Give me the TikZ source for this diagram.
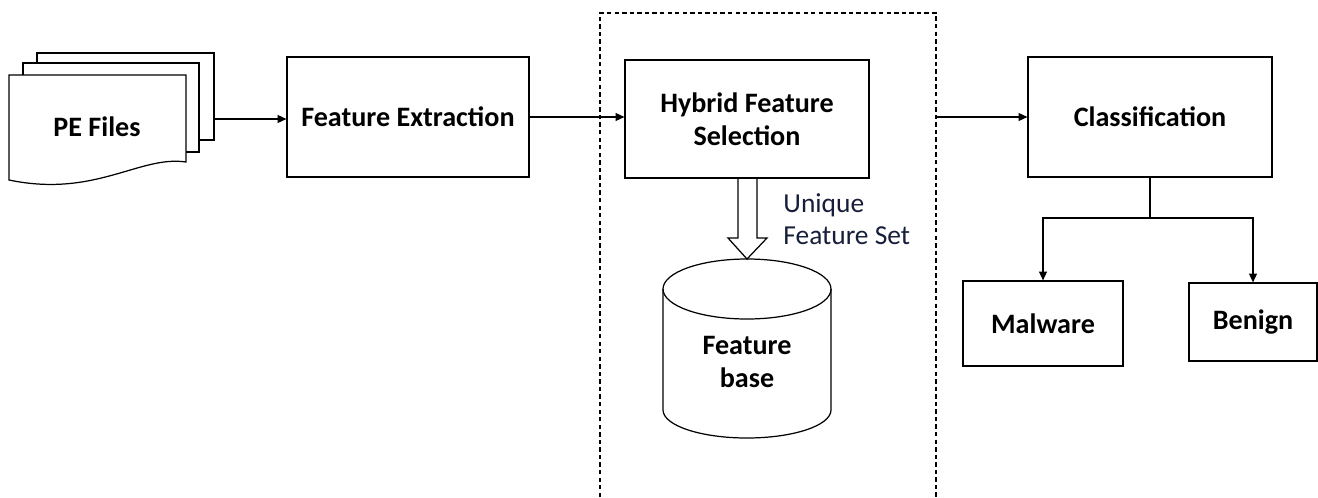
\documentclass[tikz,border=0pt]{standalone}
\usepackage{fontspec}
\setmainfont{Carlito}
\usetikzlibrary{arrows.meta,calc,positioning}
\definecolor{setblue}{RGB}{22,30,58}

\begin{document}
\begin{tikzpicture}[x=0.02cm,y=-0.02cm,line width=0.7pt,>={Triangle[length=5pt,width=4.5pt]},
  block/.style={draw,align=center,inner sep=0pt,font=\fontsize{16}{19}\selectfont\bfseries},
  label/.style={align=center,font=\fontsize{16}{19}\selectfont\bfseries}]
\useasboundingbox (0,0) rectangle (1318,497);
% stack of PE files
\draw[fill=white] (37,53) rectangle (214,140);
\draw[fill=white] (23,63) rectangle (199,152);
\draw[fill=white] (9,75) -- (186,75) -- (186,162) .. controls (140,155) and (95,198) .. (9,180) -- cycle;
\node[label] (pe) at (97,127) {PE Files};
\coordinate (stack) at (214,119);
% main blocks
\node[block,minimum width=4.84cm,minimum height=2.4cm] (fe) at (408,117) {Feature Extraction};
\node[block,minimum width=4.88cm,minimum height=2.36cm] (hfs) at (747,119) {Hybrid Feature\\Selection};
\node[block,minimum width=4.88cm,minimum height=2.4cm] (cls) at (1150,117) {Classification};
\node[block,minimum width=3.2cm,minimum height=1.7cm] (mal) at (1043,323.5) {Malware};
\node[block,minimum width=2.56cm,minimum height=1.56cm] (ben) at (1253,322) {Benign};
% dashed frame round the selection step
\draw[line width=0.6pt,dash pattern=on 2.5pt off 1.8pt] (600,497) -- (600,13) -- (936,13) -- (936,497);
\coordinate (frame) at (936,117);
% feature base
\draw (663,289) -- (663,410) arc[start angle=180,end angle=0,x radius=84,y radius=28] -- (831,289);
\draw (747,289) ellipse[x radius=84,y radius=30];
\node[label] (fb) at (747,362) {Feature\\base};
% hollow arrow
\draw (738,178) -- (738,238) -- (728,238) -- (747,259) -- (767,238) -- (757,238) -- (757,178);
\node[anchor=west,align=left,text=setblue,font=\fontsize{15.6}{18}\selectfont] (ufs) at (777,219) {Unique\\Feature Set};
% connectors
\draw[->] (stack) -- (stack -| fe.west);
\draw[->] (fe.east) -- (fe.east -| hfs.west);
\draw[->] (frame) -- (frame -| cls.west);
\coordinate (split) at (1150,218);
\draw (cls.south) -- (split);
\draw[->] (split) -| (mal.north);
\draw[->] (split) -| (ben.north);
\end{tikzpicture}
\end{document}
